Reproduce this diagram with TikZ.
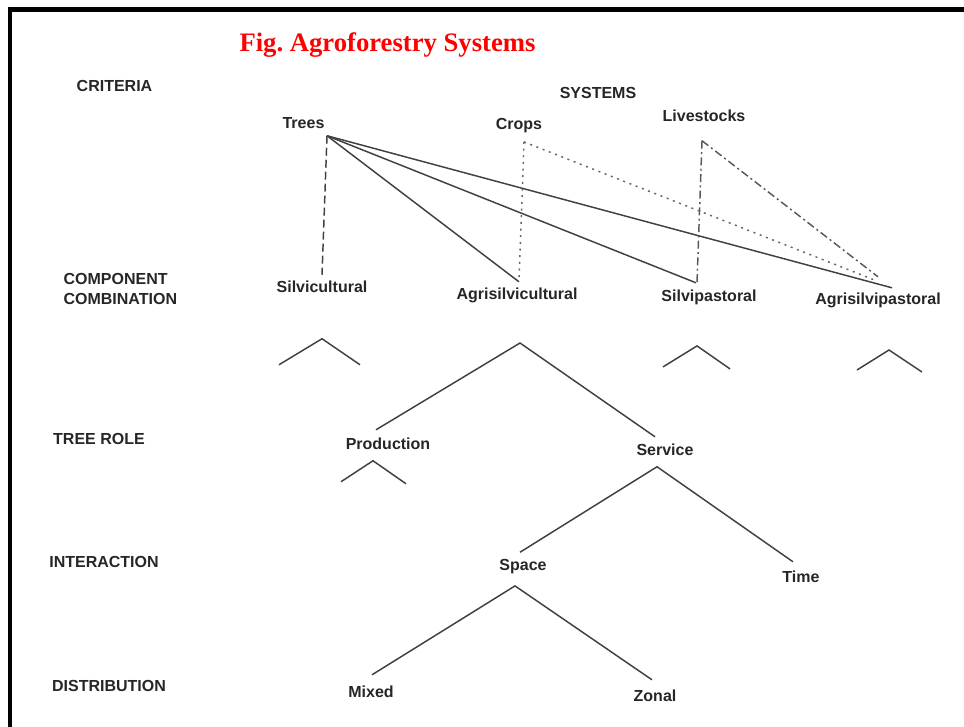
\documentclass[tikz,border=0pt,12pt]{standalone}
\usepackage{fontspec}
\setmainfont{Liberation Sans}
\newfontfamily\titlefont{Liberation Serif}
\usepackage{tikz}
\usetikzlibrary{positioning}

\begin{document}
\begin{tikzpicture}[
    x=0.75pt, y=-0.75pt,
    every node/.style={inner sep=1pt, anchor=base, font=\bfseries, text=black!85},
    heading/.style={text=red, font=\titlefont\fontsize{20}{24}\selectfont\bfseries},
    branch/.style={draw=black!75, line width=1.1pt},
    dashline/.style={branch, dash pattern=on 6pt off 3pt},
    dotline/.style={branch, draw=black!60, dash pattern=on 1.5pt off 3.5pt},
    dashdotline/.style={branch, draw=black!65, dash pattern=on 6pt off 2.5pt on 1.5pt off 2.5pt}
]
\useasboundingbox (0,0) rectangle (964,727);
\draw[line width=3.2pt] (10,727) -- (10,9.5) -- (964,9.5);

\node[heading] (title) at (387.5,52) {Fig.\ Agroforestry Systems};

\node (c1) at (114.5,92) {CRITERIA};
\node[align=left, anchor=west] (c2) at (62,289) {COMPONENT\\COMBINATION};
\node (c3) at (99,444) {TREE ROLE};
\node (c4) at (104,567) {INTERACTION};
\node (c5) at (109,691) {DISTRIBUTION};
\node (sys) at (598,99) {SYSTEMS};

\node (1) at (303.5,129) {Trees};
\node (2) at (519,130) {Crops};
\node (3) at (704,122) {Livestocks};
\node (4) at (322,293) {Silvicultural};
\node (5) at (517,300) {Agrisilvicultural};
\node (6) at (709,302) {Silvipastoral};
\node (7) at (878,305) {Agrisilvipastoral};
\node (8) at (388,449) {Production};
\node (9) at (665,455) {Service};
\node (10) at (523,570) {Space};
\node (11) at (801,582) {Time};
\node (12) at (371,697) {Mixed};
\node (13) at (655,701) {Zonal};

\coordinate (1f) at ([shift={(1,5)}]1.south east);
\coordinate (2f) at ([shift={(5,7)}]2.south);
\coordinate (3f) at ([shift={(-2,17)}]3.south);
\coordinate (5f) at ([shift={(3,38)}]5.south);
\coordinate (9f) at ([shift={(-8,10)}]9.south);
\coordinate (10f) at ([shift={(-8,11)}]10.south);

\draw[dashline] (1f) -- ([shift={(0,-5)}]4.north);
\draw[branch] (1f) -- ([shift={(2,-5)}]5.north);
\draw[branch] (1f) -- ([shift={(-13,-6)}]6.north);
\draw[branch] (1f) -- ([shift={(14,-4)}]7.north);
\draw[dotline] (2f) -- ([shift={(2,-5)}]5.north);
\draw[dotline] (2f) -- ([shift={(-4,-12)}]7.north);
\draw[dashdotline] (3f) -- ([shift={(-12,-6)}]6.north);
\draw[dashdotline] (3f) -- ([shift={(0,-15)}]7.north);

\draw[branch] ([shift={(-12,-6)}]8.north) -- (5f) -- ([shift={(-10,-5)}]9.north);
\draw[branch] ([shift={(-3,-5)}]10.north) -- (9f) -- ([shift={(-8,-7)}]11.north);
\draw[branch] ([shift={(1,-9)}]12.north) -- (10f) -- ([shift={(-3,-8)}]13.north);

\draw[branch] (4.south) ++(-43,70) -- ++(43,-26) -- ++(38,26);
\draw[branch] (6.south) ++(-46,60) -- ++(34,-21) -- ++(33,23);
\draw[branch] (7.south) ++(-21,60) -- ++(32,-20) -- ++(33,22);
\draw[branch] (8.south) ++(-47,31) -- ++(32,-21) -- ++(33,23);
\end{tikzpicture}
\end{document}
